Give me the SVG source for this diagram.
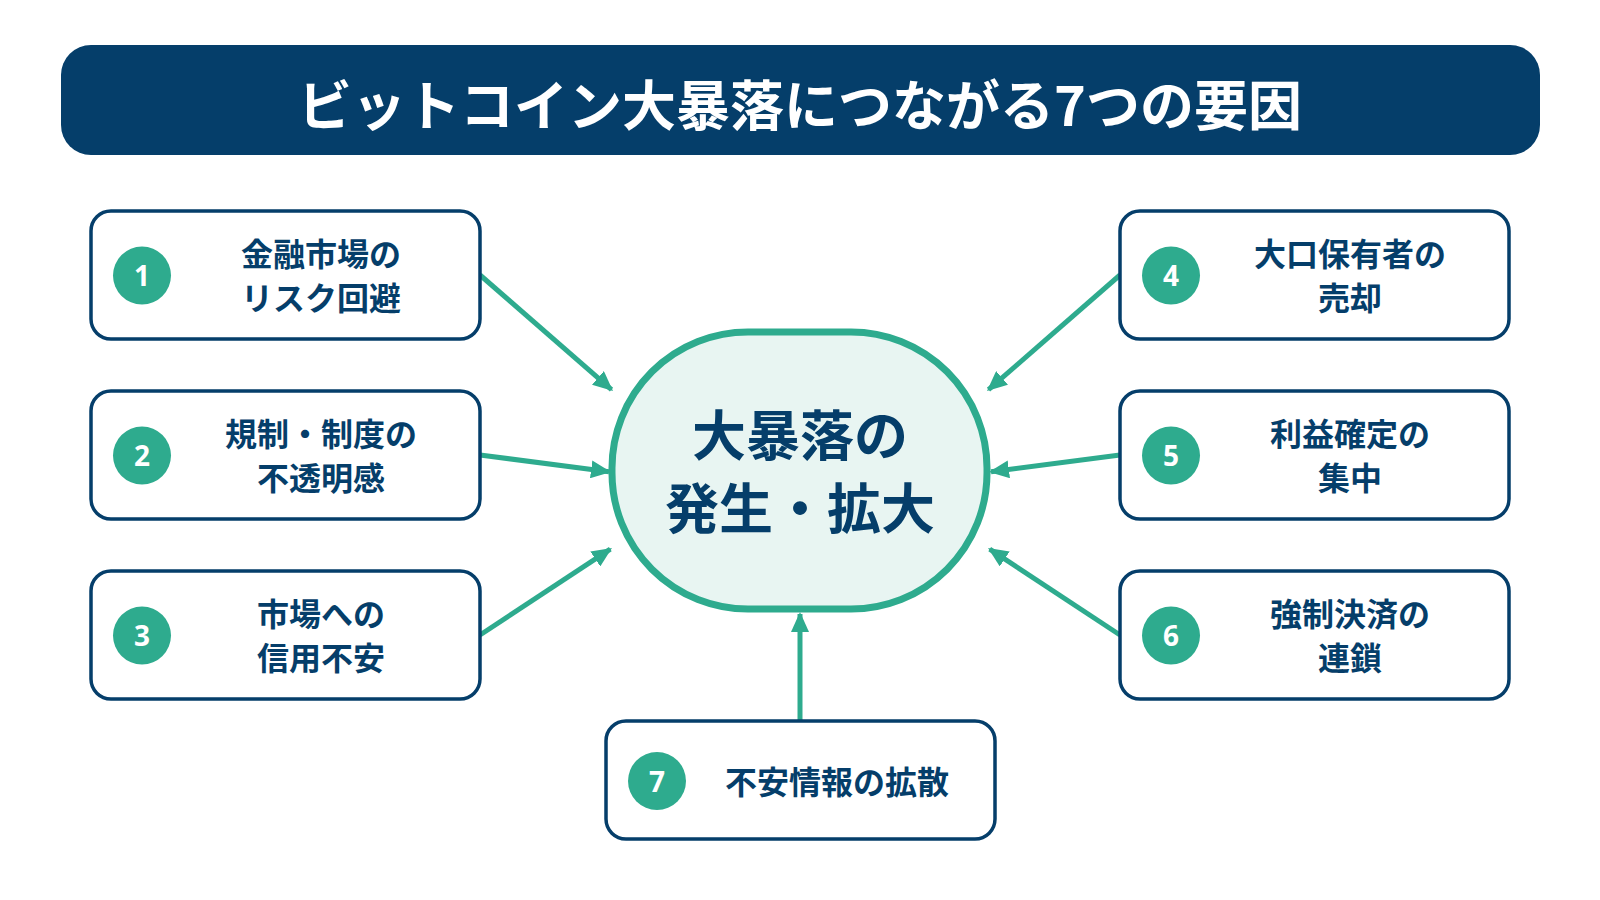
<svg xmlns="http://www.w3.org/2000/svg" width="1600" height="900" viewBox="0 0 1600 900">
<defs>
<marker id="ah" markerUnits="userSpaceOnUse" viewBox="0 0 20 18" markerWidth="20" markerHeight="18" refX="18" refY="9" orient="auto">
<path d="M0,0 L20,9 L0,18 z" fill="#2EAB8E"/>
</marker>
<style>
.box{fill:#FFFFFF;stroke:#053E6A;stroke-width:3.5}
.num{fill:#2EAB8E}
.numt{fill:#FFFFFF;font-family:"Noto Sans","Open Sans",sans-serif;font-weight:700;font-size:28px;text-anchor:middle}
.lbl{fill:#053E6A;font-family:"Noto Sans CJK JP","Noto Sans",sans-serif;font-weight:700;font-size:32px;text-anchor:middle;dominant-baseline:central}
.conn{stroke:#2EAB8E;stroke-width:5;fill:none;marker-end:url(#ah)}
</style>
</defs>
<rect width="1600" height="900" fill="#FFFFFF"/>
<g id="title">
<rect x="61" y="45" width="1479" height="110" rx="30" fill="#053E6A"/>
<text x="800" y="102" fill="#FFFFFF" font-family="'Noto Sans CJK JP','Noto Sans',sans-serif" font-weight="700" font-size="54" text-anchor="middle" dominant-baseline="central">ビットコイン大暴落につながる7つの要因</text>
</g>
<g id="connectors">
<line class="conn" x1="480" y1="275" x2="611.5" y2="389.7"/>
<line class="conn" x1="480" y1="455" x2="609" y2="471.7"/>
<line class="conn" x1="480" y1="635" x2="610.3" y2="549.1"/>
<line class="conn" x1="1120" y1="275" x2="988.5" y2="389.7"/>
<line class="conn" x1="1120" y1="455" x2="991" y2="471.7"/>
<line class="conn" x1="1120" y1="635" x2="989.7" y2="549.1"/>
<line class="conn" x1="800" y1="721" x2="800" y2="614"/>
</g>
<g id="center">
<rect x="612" y="332" width="375" height="277" rx="136" ry="136" fill="#E8F5F2" stroke="#2EAB8E" stroke-width="7"/>
<text x="800" y="432" fill="#053E6A" font-family="'Noto Sans CJK JP','Noto Sans',sans-serif" font-weight="700" font-size="54" text-anchor="middle" dominant-baseline="central">大暴落の</text>
<text x="800" y="505" fill="#053E6A" font-family="'Noto Sans CJK JP','Noto Sans',sans-serif" font-weight="700" font-size="54" text-anchor="middle" dominant-baseline="central">発生・拡大</text>
</g>
<g id="node1">
<rect class="box" x="91" y="211" width="389" height="128" rx="20"/>
<circle class="num" cx="142" cy="275.5" r="29"/>
<text class="numt" x="142" y="286">1</text>
<text class="lbl" x="321" y="252">金融市場の</text>
<text class="lbl" x="321" y="296">リスク回避</text>
</g>
<g id="node2">
<rect class="box" x="91" y="391" width="389" height="128" rx="20"/>
<circle class="num" cx="142" cy="455.5" r="29"/>
<text class="numt" x="142" y="466">2</text>
<text class="lbl" x="321" y="432">規制・制度の</text>
<text class="lbl" x="321" y="476">不透明感</text>
</g>
<g id="node3">
<rect class="box" x="91" y="571" width="389" height="128" rx="20"/>
<circle class="num" cx="142" cy="635.5" r="29"/>
<text class="numt" x="142" y="646">3</text>
<text class="lbl" x="321" y="612">市場への</text>
<text class="lbl" x="321" y="656">信用不安</text>
</g>
<g id="node4">
<rect class="box" x="1120" y="211" width="389" height="128" rx="20"/>
<circle class="num" cx="1171" cy="275.5" r="29"/>
<text class="numt" x="1171" y="286">4</text>
<text class="lbl" x="1350" y="252">大口保有者の</text>
<text class="lbl" x="1350" y="296">売却</text>
</g>
<g id="node5">
<rect class="box" x="1120" y="391" width="389" height="128" rx="20"/>
<circle class="num" cx="1171" cy="455.5" r="29"/>
<text class="numt" x="1171" y="466">5</text>
<text class="lbl" x="1350" y="432">利益確定の</text>
<text class="lbl" x="1350" y="476">集中</text>
</g>
<g id="node6">
<rect class="box" x="1120" y="571" width="389" height="128" rx="20"/>
<circle class="num" cx="1171" cy="635.5" r="29"/>
<text class="numt" x="1171" y="646">6</text>
<text class="lbl" x="1350" y="612">強制決済の</text>
<text class="lbl" x="1350" y="656">連鎖</text>
</g>
<g id="node7">
<rect class="box" x="606" y="721" width="389" height="118" rx="20"/>
<circle class="num" cx="657" cy="781" r="29"/>
<text class="numt" x="657" y="791.5">7</text>
<text class="lbl" x="837" y="780">不安情報の拡散</text>
</g>
</svg>
